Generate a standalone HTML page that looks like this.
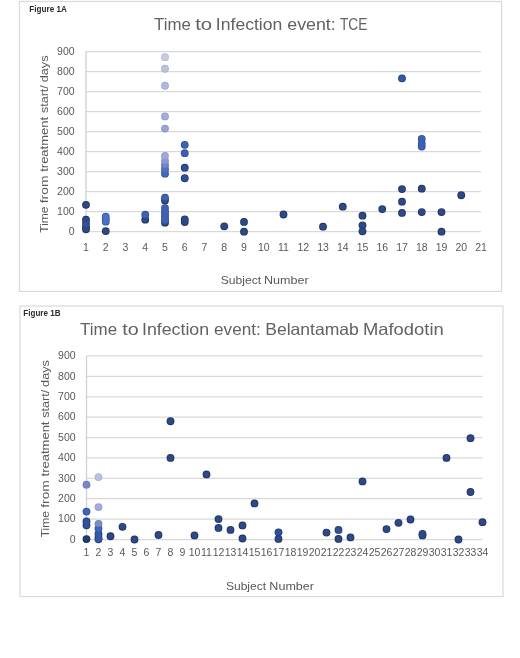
<!DOCTYPE html><html><head><meta charset="utf-8"><style>html,body{margin:0;padding:0;background:#fff;}svg{display:block;filter:blur(0.35px);}text{font-family:"Liberation Sans",sans-serif;}</style></head><body>
<svg width="520" height="658" viewBox="0 0 520 658">
<rect width="520" height="658" fill="#fff"/>
<rect x="19.5" y="1.5" width="482" height="290" fill="#fff" stroke="#D9D9D9" stroke-width="1.2"/>
<rect x="20" y="306" width="483" height="290.5" fill="#fff" stroke="#D9D9D9" stroke-width="1.2"/>
<line x1="86" x2="481" y1="231.70" y2="231.70" stroke="#D9D9D9" stroke-width="1.25"/>
<line x1="86" x2="481" y1="211.68" y2="211.68" stroke="#D9D9D9" stroke-width="1.25"/>
<line x1="86" x2="481" y1="191.66" y2="191.66" stroke="#D9D9D9" stroke-width="1.25"/>
<line x1="86" x2="481" y1="171.64" y2="171.64" stroke="#D9D9D9" stroke-width="1.25"/>
<line x1="86" x2="481" y1="151.62" y2="151.62" stroke="#D9D9D9" stroke-width="1.25"/>
<line x1="86" x2="481" y1="131.60" y2="131.60" stroke="#D9D9D9" stroke-width="1.25"/>
<line x1="86" x2="481" y1="111.58" y2="111.58" stroke="#D9D9D9" stroke-width="1.25"/>
<line x1="86" x2="481" y1="91.56" y2="91.56" stroke="#D9D9D9" stroke-width="1.25"/>
<line x1="86" x2="481" y1="71.54" y2="71.54" stroke="#D9D9D9" stroke-width="1.25"/>
<line x1="86" x2="481" y1="51.52" y2="51.52" stroke="#D9D9D9" stroke-width="1.25"/>
<line x1="86" x2="86" y1="51.52" y2="231.70" stroke="#D0D0D0" stroke-width="1.3"/>
<line x1="86.5" x2="482.5" y1="539.50" y2="539.50" stroke="#D9D9D9" stroke-width="1.25"/>
<line x1="86.5" x2="482.5" y1="519.11" y2="519.11" stroke="#D9D9D9" stroke-width="1.25"/>
<line x1="86.5" x2="482.5" y1="498.72" y2="498.72" stroke="#D9D9D9" stroke-width="1.25"/>
<line x1="86.5" x2="482.5" y1="478.33" y2="478.33" stroke="#D9D9D9" stroke-width="1.25"/>
<line x1="86.5" x2="482.5" y1="457.94" y2="457.94" stroke="#D9D9D9" stroke-width="1.25"/>
<line x1="86.5" x2="482.5" y1="437.55" y2="437.55" stroke="#D9D9D9" stroke-width="1.25"/>
<line x1="86.5" x2="482.5" y1="417.16" y2="417.16" stroke="#D9D9D9" stroke-width="1.25"/>
<line x1="86.5" x2="482.5" y1="396.77" y2="396.77" stroke="#D9D9D9" stroke-width="1.25"/>
<line x1="86.5" x2="482.5" y1="376.38" y2="376.38" stroke="#D9D9D9" stroke-width="1.25"/>
<line x1="86.5" x2="482.5" y1="355.99" y2="355.99" stroke="#D9D9D9" stroke-width="1.25"/>
<line x1="86.5" x2="86.5" y1="355.99" y2="539.50" stroke="#D0D0D0" stroke-width="1.3"/>
<g fill="#595959" font-size="10.5">
<text x="74.6" y="235.00" text-anchor="end">0</text>
<text x="75.6" y="542.80" text-anchor="end">0</text>
<text x="74.6" y="214.98" text-anchor="end">100</text>
<text x="75.6" y="522.41" text-anchor="end">100</text>
<text x="74.6" y="194.96" text-anchor="end">200</text>
<text x="75.6" y="502.02" text-anchor="end">200</text>
<text x="74.6" y="174.94" text-anchor="end">300</text>
<text x="75.6" y="481.63" text-anchor="end">300</text>
<text x="74.6" y="154.92" text-anchor="end">400</text>
<text x="75.6" y="461.24" text-anchor="end">400</text>
<text x="74.6" y="134.90" text-anchor="end">500</text>
<text x="75.6" y="440.85" text-anchor="end">500</text>
<text x="74.6" y="114.88" text-anchor="end">600</text>
<text x="75.6" y="420.46" text-anchor="end">600</text>
<text x="74.6" y="94.86" text-anchor="end">700</text>
<text x="75.6" y="400.07" text-anchor="end">700</text>
<text x="74.6" y="74.84" text-anchor="end">800</text>
<text x="75.6" y="379.68" text-anchor="end">800</text>
<text x="74.6" y="54.82" text-anchor="end">900</text>
<text x="75.6" y="359.29" text-anchor="end">900</text>
<text x="86.00" y="250.8" text-anchor="middle">1</text>
<text x="105.75" y="250.8" text-anchor="middle">2</text>
<text x="125.50" y="250.8" text-anchor="middle">3</text>
<text x="145.25" y="250.8" text-anchor="middle">4</text>
<text x="165.00" y="250.8" text-anchor="middle">5</text>
<text x="184.75" y="250.8" text-anchor="middle">6</text>
<text x="204.50" y="250.8" text-anchor="middle">7</text>
<text x="224.25" y="250.8" text-anchor="middle">8</text>
<text x="244.00" y="250.8" text-anchor="middle">9</text>
<text x="263.75" y="250.8" text-anchor="middle">10</text>
<text x="283.50" y="250.8" text-anchor="middle">11</text>
<text x="303.25" y="250.8" text-anchor="middle">12</text>
<text x="323.00" y="250.8" text-anchor="middle">13</text>
<text x="342.75" y="250.8" text-anchor="middle">14</text>
<text x="362.50" y="250.8" text-anchor="middle">15</text>
<text x="382.25" y="250.8" text-anchor="middle">16</text>
<text x="402.00" y="250.8" text-anchor="middle">17</text>
<text x="421.75" y="250.8" text-anchor="middle">18</text>
<text x="441.50" y="250.8" text-anchor="middle">19</text>
<text x="461.25" y="250.8" text-anchor="middle">20</text>
<text x="481.00" y="250.8" text-anchor="middle">21</text>
<text x="86.50" y="556.3" text-anchor="middle">1</text>
<text x="98.50" y="556.3" text-anchor="middle">2</text>
<text x="110.50" y="556.3" text-anchor="middle">3</text>
<text x="122.50" y="556.3" text-anchor="middle">4</text>
<text x="134.50" y="556.3" text-anchor="middle">5</text>
<text x="146.50" y="556.3" text-anchor="middle">6</text>
<text x="158.50" y="556.3" text-anchor="middle">7</text>
<text x="170.50" y="556.3" text-anchor="middle">8</text>
<text x="182.50" y="556.3" text-anchor="middle">9</text>
<text x="194.50" y="556.3" text-anchor="middle">10</text>
<text x="206.50" y="556.3" text-anchor="middle">11</text>
<text x="218.50" y="556.3" text-anchor="middle">12</text>
<text x="230.50" y="556.3" text-anchor="middle">13</text>
<text x="242.50" y="556.3" text-anchor="middle">14</text>
<text x="254.50" y="556.3" text-anchor="middle">15</text>
<text x="266.50" y="556.3" text-anchor="middle">16</text>
<text x="278.50" y="556.3" text-anchor="middle">17</text>
<text x="290.50" y="556.3" text-anchor="middle">18</text>
<text x="302.50" y="556.3" text-anchor="middle">19</text>
<text x="314.50" y="556.3" text-anchor="middle">20</text>
<text x="326.50" y="556.3" text-anchor="middle">21</text>
<text x="338.50" y="556.3" text-anchor="middle">22</text>
<text x="350.50" y="556.3" text-anchor="middle">23</text>
<text x="362.50" y="556.3" text-anchor="middle">24</text>
<text x="374.50" y="556.3" text-anchor="middle">25</text>
<text x="386.50" y="556.3" text-anchor="middle">26</text>
<text x="398.50" y="556.3" text-anchor="middle">27</text>
<text x="410.50" y="556.3" text-anchor="middle">28</text>
<text x="422.50" y="556.3" text-anchor="middle">29</text>
<text x="434.50" y="556.3" text-anchor="middle">30</text>
<text x="446.50" y="556.3" text-anchor="middle">31</text>
<text x="458.50" y="556.3" text-anchor="middle">32</text>
<text x="470.50" y="556.3" text-anchor="middle">33</text>
<text x="482.50" y="556.3" text-anchor="middle">34</text>
</g>
<text x="153.99" y="29.70" fill="#626262" font-size="16.3" textLength="36.80" lengthAdjust="spacingAndGlyphs">Time</text>
<text x="195.15" y="29.70" fill="#626262" font-size="16.3" textLength="16.98" lengthAdjust="spacingAndGlyphs">to</text>
<text x="215.88" y="29.70" fill="#626262" font-size="16.3" textLength="66.46" lengthAdjust="spacingAndGlyphs">Infection</text>
<text x="287.24" y="29.70" fill="#626262" font-size="16.3" textLength="48.52" lengthAdjust="spacingAndGlyphs">event:</text>
<text x="339.95" y="29.70" fill="#626262" font-size="16.3" textLength="27.42" lengthAdjust="spacingAndGlyphs">TCE</text>
<text x="80.09" y="334.50" fill="#626262" font-size="16.5" textLength="37.00" lengthAdjust="spacingAndGlyphs">Time</text>
<text x="122.16" y="334.50" fill="#626262" font-size="16.5" textLength="16.45" lengthAdjust="spacingAndGlyphs">to</text>
<text x="141.98" y="334.50" fill="#626262" font-size="16.5" textLength="67.17" lengthAdjust="spacingAndGlyphs">Infection</text>
<text x="214.07" y="334.50" fill="#626262" font-size="16.5" textLength="46.67" lengthAdjust="spacingAndGlyphs">event:</text>
<text x="265.22" y="334.50" fill="#626262" font-size="16.5" textLength="93.60" lengthAdjust="spacingAndGlyphs">Belantamab</text>
<text x="362.95" y="334.50" fill="#626262" font-size="16.5" textLength="80.84" lengthAdjust="spacingAndGlyphs">Mafodotin</text>
<text x="220.75" y="284.30" fill="#595959" font-size="11" textLength="40.31" lengthAdjust="spacingAndGlyphs">Subject</text>
<text x="263.97" y="284.30" fill="#595959" font-size="11" textLength="44.72" lengthAdjust="spacingAndGlyphs">Number</text>
<text x="225.95" y="590.20" fill="#595959" font-size="11" textLength="40.11" lengthAdjust="spacingAndGlyphs">Subject</text>
<text x="269.37" y="590.20" fill="#595959" font-size="11" textLength="44.61" lengthAdjust="spacingAndGlyphs">Number</text>
<text x="29.31" y="11.50" fill="#2A2A2A" font-size="8.3" font-weight="bold" textLength="37.58" lengthAdjust="spacingAndGlyphs">Figure 1A</text>
<text x="23.31" y="316.40" fill="#2A2A2A" font-size="8.3" font-weight="bold" textLength="37.17" lengthAdjust="spacingAndGlyphs">Figure 1B</text>
<text transform="rotate(-90)" x="-232.71" y="48.40" fill="#595959" font-size="11.4" textLength="26.17" lengthAdjust="spacingAndGlyphs">Time</text>
<text transform="rotate(-90)" x="-537.31" y="48.90" fill="#595959" font-size="11.4" textLength="26.17" lengthAdjust="spacingAndGlyphs">Time</text>
<text transform="rotate(-90)" x="-203.22" y="48.40" fill="#595959" font-size="11.4" textLength="27.67" lengthAdjust="spacingAndGlyphs">from</text>
<text transform="rotate(-90)" x="-507.82" y="48.90" fill="#595959" font-size="11.4" textLength="27.67" lengthAdjust="spacingAndGlyphs">from</text>
<text transform="rotate(-90)" x="-171.81" y="48.40" fill="#595959" font-size="11.4" textLength="54.89" lengthAdjust="spacingAndGlyphs">treatment</text>
<text transform="rotate(-90)" x="-476.41" y="48.90" fill="#595959" font-size="11.4" textLength="54.89" lengthAdjust="spacingAndGlyphs">treatment</text>
<text transform="rotate(-90)" x="-113.13" y="48.40" fill="#595959" font-size="11.4" textLength="28.00" lengthAdjust="spacingAndGlyphs">start/</text>
<text transform="rotate(-90)" x="-417.73" y="48.90" fill="#595959" font-size="11.4" textLength="28.00" lengthAdjust="spacingAndGlyphs">start/</text>
<text transform="rotate(-90)" x="-82.35" y="48.40" fill="#595959" font-size="11.4" textLength="26.89" lengthAdjust="spacingAndGlyphs">days</text>
<text transform="rotate(-90)" x="-386.95" y="48.90" fill="#595959" font-size="11.4" textLength="26.89" lengthAdjust="spacingAndGlyphs">days</text>
<circle cx="244.00" cy="231.70" r="3.90" fill="#203560"/>
<circle cx="441.50" cy="231.70" r="3.90" fill="#203560"/>
<circle cx="362.50" cy="231.30" r="3.90" fill="#203560"/>
<circle cx="105.75" cy="231.10" r="3.90" fill="#203560"/>
<circle cx="86.00" cy="229.30" r="3.90" fill="#203560"/>
<circle cx="86.00" cy="227.30" r="3.90" fill="#203560"/>
<circle cx="323.00" cy="226.69" r="3.90" fill="#203560"/>
<circle cx="224.25" cy="226.29" r="3.90" fill="#203560"/>
<circle cx="362.50" cy="225.29" r="3.90" fill="#203560"/>
<circle cx="86.00" cy="223.69" r="3.90" fill="#253B6E"/>
<circle cx="165.00" cy="222.69" r="3.90" fill="#203560"/>
<circle cx="184.75" cy="222.09" r="3.90" fill="#203560"/>
<circle cx="244.00" cy="221.89" r="3.90" fill="#203560"/>
<circle cx="105.75" cy="221.69" r="3.90" fill="#3C5BA0"/>
<circle cx="165.00" cy="220.69" r="3.90" fill="#325093"/>
<circle cx="86.00" cy="219.69" r="3.90" fill="#203560"/>
<circle cx="145.25" cy="219.69" r="3.90" fill="#203560"/>
<circle cx="105.75" cy="219.29" r="3.90" fill="#3C5BA0"/>
<circle cx="184.75" cy="219.29" r="3.90" fill="#203560"/>
<circle cx="165.00" cy="217.69" r="3.90" fill="#325093"/>
<circle cx="105.75" cy="216.69" r="3.90" fill="#3C5BA0"/>
<circle cx="362.50" cy="215.68" r="3.90" fill="#203560"/>
<circle cx="145.25" cy="214.68" r="3.90" fill="#325093"/>
<circle cx="165.00" cy="214.68" r="3.90" fill="#325093"/>
<circle cx="283.50" cy="214.48" r="3.90" fill="#203560"/>
<circle cx="402.00" cy="212.88" r="3.90" fill="#203560"/>
<circle cx="421.75" cy="212.08" r="3.90" fill="#203560"/>
<circle cx="441.50" cy="212.08" r="3.90" fill="#203560"/>
<circle cx="165.00" cy="211.68" r="3.90" fill="#325093"/>
<circle cx="382.25" cy="209.08" r="3.90" fill="#203560"/>
<circle cx="165.00" cy="208.08" r="3.90" fill="#325093"/>
<circle cx="342.75" cy="206.67" r="3.90" fill="#203560"/>
<circle cx="86.00" cy="204.87" r="3.90" fill="#203560"/>
<circle cx="402.00" cy="201.67" r="3.90" fill="#203560"/>
<circle cx="165.00" cy="200.47" r="3.90" fill="#203560"/>
<circle cx="165.00" cy="197.67" r="3.90" fill="#325093"/>
<circle cx="461.25" cy="195.26" r="3.90" fill="#203560"/>
<circle cx="402.00" cy="189.06" r="3.90" fill="#203560"/>
<circle cx="421.75" cy="188.66" r="3.90" fill="#203560"/>
<circle cx="184.75" cy="178.25" r="3.90" fill="#21386E"/>
<circle cx="165.00" cy="173.64" r="3.90" fill="#37559D"/>
<circle cx="165.00" cy="169.24" r="3.90" fill="#415DA0"/>
<circle cx="184.75" cy="167.64" r="3.90" fill="#21386E"/>
<circle cx="165.00" cy="165.03" r="3.90" fill="#5B6DA7"/>
<circle cx="165.00" cy="160.83" r="3.90" fill="#828FC5"/>
<circle cx="165.00" cy="156.02" r="3.90" fill="#969CC7"/>
<circle cx="184.75" cy="153.22" r="3.90" fill="#325094"/>
<circle cx="421.75" cy="146.62" r="3.90" fill="#325093"/>
<circle cx="184.75" cy="144.81" r="3.90" fill="#325094"/>
<circle cx="421.75" cy="143.61" r="3.90" fill="#325093"/>
<circle cx="421.75" cy="139.01" r="3.90" fill="#325093"/>
<circle cx="165.00" cy="128.60" r="3.90" fill="#8F98C7"/>
<circle cx="165.00" cy="116.38" r="3.90" fill="#979FCA"/>
<circle cx="165.00" cy="85.75" r="3.90" fill="#A3ABCE"/>
<circle cx="402.00" cy="78.35" r="3.90" fill="#214078"/>
<circle cx="165.00" cy="68.74" r="3.90" fill="#AEB4CC"/>
<circle cx="165.00" cy="57.13" r="3.90" fill="#BABDD0"/>
<circle cx="244.00" cy="231.70" r="3.00" fill="#2D4A86"/>
<circle cx="441.50" cy="231.70" r="3.00" fill="#2D4A86"/>
<circle cx="362.50" cy="231.30" r="3.00" fill="#2D4A86"/>
<circle cx="105.75" cy="231.10" r="3.00" fill="#2D4A86"/>
<circle cx="86.00" cy="229.30" r="3.00" fill="#2D4A86"/>
<circle cx="86.00" cy="227.30" r="3.00" fill="#2D4A86"/>
<circle cx="323.00" cy="226.69" r="3.00" fill="#2D4A86"/>
<circle cx="224.25" cy="226.29" r="3.00" fill="#2D4A86"/>
<circle cx="362.50" cy="225.29" r="3.00" fill="#2D4A86"/>
<circle cx="86.00" cy="223.69" r="3.00" fill="#34529A"/>
<circle cx="165.00" cy="222.69" r="3.00" fill="#2D4A86"/>
<circle cx="184.75" cy="222.09" r="3.00" fill="#2D4A86"/>
<circle cx="244.00" cy="221.89" r="3.00" fill="#2D4A86"/>
<circle cx="105.75" cy="221.69" r="3.00" fill="#4A70C4"/>
<circle cx="165.00" cy="220.69" r="3.00" fill="#3D62B4"/>
<circle cx="86.00" cy="219.69" r="3.00" fill="#2D4A86"/>
<circle cx="145.25" cy="219.69" r="3.00" fill="#2D4A86"/>
<circle cx="105.75" cy="219.29" r="3.00" fill="#4A70C4"/>
<circle cx="184.75" cy="219.29" r="3.00" fill="#2D4A86"/>
<circle cx="165.00" cy="217.69" r="3.00" fill="#3D62B4"/>
<circle cx="105.75" cy="216.69" r="3.00" fill="#4A70C4"/>
<circle cx="362.50" cy="215.68" r="3.00" fill="#2D4A86"/>
<circle cx="145.25" cy="214.68" r="3.00" fill="#3D62B4"/>
<circle cx="165.00" cy="214.68" r="3.00" fill="#3D62B4"/>
<circle cx="283.50" cy="214.48" r="3.00" fill="#2D4A86"/>
<circle cx="402.00" cy="212.88" r="3.00" fill="#2D4A86"/>
<circle cx="421.75" cy="212.08" r="3.00" fill="#2D4A86"/>
<circle cx="441.50" cy="212.08" r="3.00" fill="#2D4A86"/>
<circle cx="165.00" cy="211.68" r="3.00" fill="#3D62B4"/>
<circle cx="382.25" cy="209.08" r="3.00" fill="#2D4A86"/>
<circle cx="165.00" cy="208.08" r="3.00" fill="#3D62B4"/>
<circle cx="342.75" cy="206.67" r="3.00" fill="#2D4A86"/>
<circle cx="86.00" cy="204.87" r="3.00" fill="#2D4A86"/>
<circle cx="402.00" cy="201.67" r="3.00" fill="#2D4A86"/>
<circle cx="165.00" cy="200.47" r="3.00" fill="#2D4A86"/>
<circle cx="165.00" cy="197.67" r="3.00" fill="#3D62B4"/>
<circle cx="461.25" cy="195.26" r="3.00" fill="#2D4A86"/>
<circle cx="402.00" cy="189.06" r="3.00" fill="#2D4A86"/>
<circle cx="421.75" cy="188.66" r="3.00" fill="#2D4A86"/>
<circle cx="184.75" cy="178.25" r="3.00" fill="#2E4E9A"/>
<circle cx="165.00" cy="173.64" r="3.00" fill="#4468C0"/>
<circle cx="165.00" cy="169.24" r="3.00" fill="#5072C4"/>
<circle cx="184.75" cy="167.64" r="3.00" fill="#2E4E9A"/>
<circle cx="165.00" cy="165.03" r="3.00" fill="#6F86CC"/>
<circle cx="165.00" cy="160.83" r="3.00" fill="#8C9AD4"/>
<circle cx="165.00" cy="156.02" r="3.00" fill="#A2A8D6"/>
<circle cx="184.75" cy="153.22" r="3.00" fill="#3D62B5"/>
<circle cx="421.75" cy="146.62" r="3.00" fill="#3D62B4"/>
<circle cx="184.75" cy="144.81" r="3.00" fill="#3D62B5"/>
<circle cx="421.75" cy="143.61" r="3.00" fill="#3D62B4"/>
<circle cx="421.75" cy="139.01" r="3.00" fill="#3D62B4"/>
<circle cx="165.00" cy="128.60" r="3.00" fill="#9AA4D6"/>
<circle cx="165.00" cy="116.38" r="3.00" fill="#A3ACDA"/>
<circle cx="165.00" cy="85.75" r="3.00" fill="#B0B8DE"/>
<circle cx="402.00" cy="78.35" r="3.00" fill="#2F5AA8"/>
<circle cx="165.00" cy="68.74" r="3.00" fill="#BCC2DC"/>
<circle cx="165.00" cy="57.13" r="3.00" fill="#C8CCE0"/>
<circle cx="134.50" cy="539.50" r="3.90" fill="#203560"/>
<circle cx="458.50" cy="539.50" r="3.90" fill="#203560"/>
<circle cx="98.50" cy="539.30" r="3.90" fill="#263F78"/>
<circle cx="86.50" cy="539.09" r="3.90" fill="#172D54"/>
<circle cx="278.50" cy="538.89" r="3.90" fill="#203560"/>
<circle cx="338.50" cy="538.89" r="3.90" fill="#203560"/>
<circle cx="242.50" cy="538.48" r="3.90" fill="#203560"/>
<circle cx="98.50" cy="537.46" r="3.90" fill="#263F78"/>
<circle cx="350.50" cy="537.46" r="3.90" fill="#203560"/>
<circle cx="110.50" cy="536.24" r="3.90" fill="#203560"/>
<circle cx="194.50" cy="535.42" r="3.90" fill="#203560"/>
<circle cx="422.50" cy="535.42" r="3.90" fill="#203560"/>
<circle cx="158.50" cy="535.01" r="3.90" fill="#203560"/>
<circle cx="98.50" cy="533.79" r="3.90" fill="#263F78"/>
<circle cx="422.50" cy="533.79" r="3.90" fill="#203560"/>
<circle cx="326.50" cy="532.57" r="3.90" fill="#203560"/>
<circle cx="278.50" cy="532.36" r="3.90" fill="#223970"/>
<circle cx="230.50" cy="529.92" r="3.90" fill="#203560"/>
<circle cx="338.50" cy="529.92" r="3.90" fill="#22396E"/>
<circle cx="386.50" cy="529.10" r="3.90" fill="#203560"/>
<circle cx="98.50" cy="528.49" r="3.90" fill="#34559A"/>
<circle cx="218.50" cy="527.88" r="3.90" fill="#203560"/>
<circle cx="122.50" cy="526.86" r="3.90" fill="#203560"/>
<circle cx="242.50" cy="525.43" r="3.90" fill="#203560"/>
<circle cx="86.50" cy="525.23" r="3.90" fill="#213A71"/>
<circle cx="98.50" cy="523.80" r="3.90" fill="#7182B2"/>
<circle cx="398.50" cy="522.78" r="3.90" fill="#203560"/>
<circle cx="482.50" cy="522.17" r="3.90" fill="#203560"/>
<circle cx="86.50" cy="521.35" r="3.90" fill="#213A71"/>
<circle cx="410.50" cy="519.52" r="3.90" fill="#203560"/>
<circle cx="218.50" cy="519.11" r="3.90" fill="#203560"/>
<circle cx="86.50" cy="511.57" r="3.90" fill="#335396"/>
<circle cx="98.50" cy="507.08" r="3.90" fill="#969FCE"/>
<circle cx="254.50" cy="503.41" r="3.90" fill="#203560"/>
<circle cx="470.50" cy="491.99" r="3.90" fill="#203560"/>
<circle cx="86.50" cy="484.65" r="3.90" fill="#6E7DB8"/>
<circle cx="362.50" cy="481.39" r="3.90" fill="#203560"/>
<circle cx="98.50" cy="477.11" r="3.90" fill="#ACB2D5"/>
<circle cx="206.50" cy="474.46" r="3.90" fill="#203560"/>
<circle cx="170.50" cy="457.94" r="3.90" fill="#203560"/>
<circle cx="446.50" cy="457.94" r="3.90" fill="#203560"/>
<circle cx="470.50" cy="438.16" r="3.90" fill="#203560"/>
<circle cx="170.50" cy="421.24" r="3.90" fill="#203560"/>
<circle cx="134.50" cy="539.50" r="3.00" fill="#2D4A86"/>
<circle cx="458.50" cy="539.50" r="3.00" fill="#2D4A86"/>
<circle cx="98.50" cy="539.30" r="3.00" fill="#3558A8"/>
<circle cx="86.50" cy="539.09" r="3.00" fill="#213F76"/>
<circle cx="278.50" cy="538.89" r="3.00" fill="#2D4A86"/>
<circle cx="338.50" cy="538.89" r="3.00" fill="#2D4A86"/>
<circle cx="242.50" cy="538.48" r="3.00" fill="#2D4A86"/>
<circle cx="98.50" cy="537.46" r="3.00" fill="#3558A8"/>
<circle cx="350.50" cy="537.46" r="3.00" fill="#2D4A86"/>
<circle cx="110.50" cy="536.24" r="3.00" fill="#2D4A86"/>
<circle cx="194.50" cy="535.42" r="3.00" fill="#2D4A86"/>
<circle cx="422.50" cy="535.42" r="3.00" fill="#2D4A86"/>
<circle cx="158.50" cy="535.01" r="3.00" fill="#2D4A86"/>
<circle cx="98.50" cy="533.79" r="3.00" fill="#3558A8"/>
<circle cx="422.50" cy="533.79" r="3.00" fill="#2D4A86"/>
<circle cx="326.50" cy="532.57" r="3.00" fill="#2D4A86"/>
<circle cx="278.50" cy="532.36" r="3.00" fill="#30509C"/>
<circle cx="230.50" cy="529.92" r="3.00" fill="#2D4A86"/>
<circle cx="338.50" cy="529.92" r="3.00" fill="#30509A"/>
<circle cx="386.50" cy="529.10" r="3.00" fill="#2D4A86"/>
<circle cx="98.50" cy="528.49" r="3.00" fill="#4068BD"/>
<circle cx="218.50" cy="527.88" r="3.00" fill="#2D4A86"/>
<circle cx="122.50" cy="526.86" r="3.00" fill="#2D4A86"/>
<circle cx="242.50" cy="525.43" r="3.00" fill="#2D4A86"/>
<circle cx="86.50" cy="525.23" r="3.00" fill="#2F519E"/>
<circle cx="98.50" cy="523.80" r="3.00" fill="#7A8CC0"/>
<circle cx="398.50" cy="522.78" r="3.00" fill="#2D4A86"/>
<circle cx="482.50" cy="522.17" r="3.00" fill="#2D4A86"/>
<circle cx="86.50" cy="521.35" r="3.00" fill="#2F519E"/>
<circle cx="410.50" cy="519.52" r="3.00" fill="#2D4A86"/>
<circle cx="218.50" cy="519.11" r="3.00" fill="#2D4A86"/>
<circle cx="86.50" cy="511.57" r="3.00" fill="#3F66B8"/>
<circle cx="98.50" cy="507.08" r="3.00" fill="#A2ABDE"/>
<circle cx="254.50" cy="503.41" r="3.00" fill="#2D4A86"/>
<circle cx="470.50" cy="491.99" r="3.00" fill="#2D4A86"/>
<circle cx="86.50" cy="484.65" r="3.00" fill="#7787C6"/>
<circle cx="362.50" cy="481.39" r="3.00" fill="#2D4A86"/>
<circle cx="98.50" cy="477.11" r="3.00" fill="#B9C0E6"/>
<circle cx="206.50" cy="474.46" r="3.00" fill="#2D4A86"/>
<circle cx="170.50" cy="457.94" r="3.00" fill="#2D4A86"/>
<circle cx="446.50" cy="457.94" r="3.00" fill="#2D4A86"/>
<circle cx="470.50" cy="438.16" r="3.00" fill="#2D4A86"/>
<circle cx="170.50" cy="421.24" r="3.00" fill="#2D4A86"/>
</svg></body></html>
